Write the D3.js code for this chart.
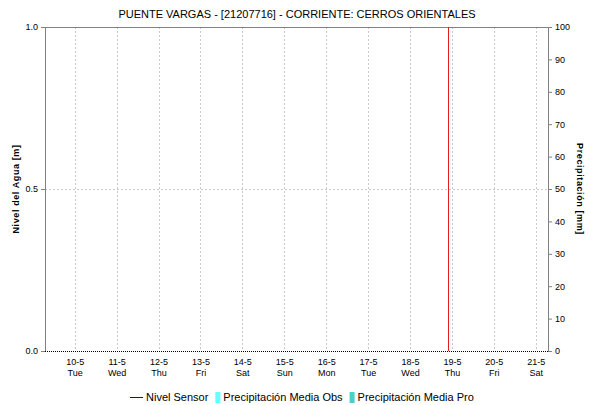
<!DOCTYPE html>
<html>
<head>
<meta charset="utf-8">
<script src="https://cdn.jsdelivr.net/npm/d3@7"></script>
<style>
  body { margin: 0; background: #fff; }
  svg { font-family: "Liberation Sans", Arial, sans-serif; }
</style>
</head>
<body>
<svg id="chart" width="590" height="405"></svg>
<script>
// data (the station reports no readings in this window)
var title = "PUENTE VARGAS - [21207716] - CORRIENTE: CERROS ORIENTALES";
var dayTicks = ["2021-05-10","2021-05-11","2021-05-12","2021-05-13","2021-05-14","2021-05-15",
                "2021-05-16","2021-05-17","2021-05-18","2021-05-19","2021-05-20","2021-05-21"];
var dayNames = ["Tue","Wed","Thu","Fri","Sat","Sun","Mon","Tue","Wed","Thu","Fri","Sat"];
var nivelSensor = [];      // [{t, v}]
var precipObs = [];        // [{t, v}]
var precipPro = [];        // [{t, v}]
var nowMark = "2021-05-18T22:00";
var levelTicks = [0, 0.5, 1.0];
var rainTicks = [0,10,20,30,40,50,60,70,80,90,100];
var legendItems = [
  {name: "Nivel Sensor", type: "line", color: "#0000ff"},
  {name: "Precipitación Media Obs", type: "box", color: "#66ffff"},
  {name: "Precipitación Media Pro", type: "box", color: "#48d1cc"}
];

var svg = d3.select("#chart");
var margin = {left: 45, right: 42, top: 27, bottom: 54};
var width = 590 - margin.left - margin.right;
var height = 405 - margin.top - margin.bottom;

var parse = d3.timeParse("%Y-%m-%d");
var parseT = d3.timeParse("%Y-%m-%dT%H:%M");

var x = d3.scaleTime()
  .domain([parseT("2021-05-09T07:00"), parseT("2021-05-21T07:00")])
  .range([0, width]);
var yL = d3.scaleLinear().domain([0, 1]).range([height, 0]);
var yR = d3.scaleLinear().domain([0, 100]).range([height, 0]);

var g = svg.append("g").attr("transform", "translate(" + margin.left + "," + margin.top + ")");

// vertical grid
g.selectAll(".vgrid")
  .data(dayTicks)
  .enter().append("line")
  .attr("x1", function(d){ return Math.round(x(parse(d))) + 0.5; })
  .attr("x2", function(d){ return Math.round(x(parse(d))) + 0.5; })
  .attr("y1", 0).attr("y2", height)
  .attr("stroke", "#c8c8c8")
  .attr("stroke-dasharray", "2,2");

// horizontal grid at 0.5
g.append("line")
  .attr("x1", 0).attr("x2", width)
  .attr("y1", Math.round(yL(0.5)) + 0.5).attr("y2", Math.round(yL(0.5)) + 0.5)
  .attr("stroke", "#c8c8c8")
  .attr("stroke-dasharray", "2,2");

// precipitation bars
var barW = 3;
g.selectAll(".obs").data(precipObs).enter().append("rect")
  .attr("x", function(d){ return x(parseT(d.t)) - barW; })
  .attr("y", function(d){ return yR(d.v); })
  .attr("width", barW).attr("height", function(d){ return height - yR(d.v); })
  .attr("fill", legendItems[1].color);
g.selectAll(".pro").data(precipPro).enter().append("rect")
  .attr("x", function(d){ return x(parseT(d.t)); })
  .attr("y", function(d){ return yR(d.v); })
  .attr("width", barW).attr("height", function(d){ return height - yR(d.v); })
  .attr("fill", legendItems[2].color);

// water level line
g.append("path")
  .datum(nivelSensor)
  .attr("fill", "none")
  .attr("stroke", legendItems[0].color)
  .attr("d", d3.line().x(function(d){ return x(parseT(d.t)); }).y(function(d){ return yL(d.v); }));

// frame
g.append("line").attr("x1", 0).attr("x2", width).attr("y1", 0.5).attr("y2", 0.5).attr("stroke", "#808080");
g.append("line").attr("x1", 0.5).attr("x2", 0.5).attr("y1", 0).attr("y2", height).attr("stroke", "#808080");
g.append("line").attr("x1", width + 0.5).attr("x2", width + 0.5).attr("y1", 0).attr("y2", height).attr("stroke", "#808080");
g.append("line").attr("x1", 0).attr("x2", width).attr("y1", height + 0.5).attr("y2", height + 0.5)
  .attr("stroke", "#000").attr("stroke-dasharray", "1,1");

// now marker
g.append("line")
  .attr("x1", Math.round(x(parseT(nowMark))) + 0.5).attr("x2", Math.round(x(parseT(nowMark))) + 0.5)
  .attr("y1", 0).attr("y2", height)
  .attr("stroke", "#e02020");

// left axis
var left = g.append("g").call(d3.axisLeft(yL).tickValues(levelTicks).tickFormat(d3.format(".1f")).tickSize(4).tickPadding(3));
left.select(".domain").remove();
left.selectAll("line").attr("stroke", "#808080");
left.selectAll("text").attr("font-size", 9).attr("font-family", "Liberation Sans, Arial, sans-serif").attr("fill", "#000");

// right axis
var right = g.append("g").attr("transform", "translate(" + width + ",0)")
  .call(d3.axisRight(yR).tickValues(rainTicks).tickSize(4).tickPadding(3));
right.select(".domain").remove();
right.selectAll("line").attr("stroke", "#808080");
right.selectAll("text").attr("font-size", 9).attr("font-family", "Liberation Sans, Arial, sans-serif").attr("fill", "#000");

// bottom labels
var xl = g.append("g").attr("transform", "translate(0," + height + ")");
xl.selectAll(".d1").data(dayTicks).enter().append("text")
  .attr("x", function(d){ return x(parse(d)) + 0.5; })
  .attr("y", 14)
  .attr("text-anchor", "middle")
  .attr("font-size", 9)
  .text(function(d){ var p = parse(d); return p.getDate() + "-" + (p.getMonth() + 1); });
xl.selectAll(".d2").data(dayTicks).enter().append("text")
  .attr("x", function(d){ return x(parse(d)) + 0.5; })
  .attr("y", 25)
  .attr("text-anchor", "middle")
  .attr("font-size", 9)
  .text(function(d, i){ return dayNames[i]; });

// title
svg.append("text")
  .attr("x", 297).attr("y", 18)
  .attr("text-anchor", "middle")
  .attr("font-size", 11)
  .text(title);

// axis titles
svg.append("text")
  .attr("transform", "translate(19," + (margin.top + height / 2) + ") rotate(-90)")
  .attr("text-anchor", "middle")
  .attr("font-size", 9).attr("font-weight", "bold").attr("letter-spacing", 0.6)
  .text("Nivel del Agua [m]");
svg.append("text")
  .attr("transform", "translate(577," + (margin.top + height / 2) + ") rotate(90)")
  .attr("text-anchor", "middle")
  .attr("font-size", 9).attr("font-weight", "bold").attr("letter-spacing", 0.6)
  .text("Precipitación [mm]");

// legend
var legend = svg.append("g").attr("transform", "translate(130,397)");
var lx = 0;
legendItems.forEach(function(it){
  if (it.type === "line") {
    legend.append("line").attr("x1", lx).attr("x2", lx + 13).attr("y1", 0.5).attr("y2", 0.5).attr("stroke", it.color);
    lx += 16;
  } else {
    legend.append("rect").attr("x", lx).attr("y", -5).attr("width", 5).attr("height", 11).attr("fill", it.color);
    lx += 8;
  }
  var t = legend.append("text").attr("x", lx).attr("y", 4).attr("font-size", 11).text(it.name);
  lx += t.node().getComputedTextLength() + 7;
});
</script>
</body>
</html>
